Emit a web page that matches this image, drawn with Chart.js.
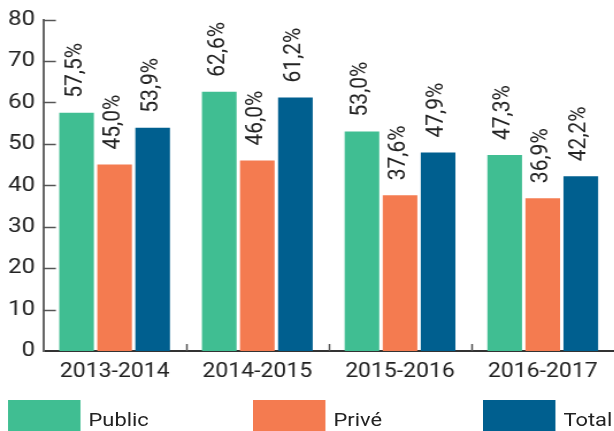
<!DOCTYPE html>
<html lang="fr">
<head>
  <meta charset="UTF-8" />
  <title>Public / Privé / Total</title>
  <script src="https://cdn.jsdelivr.net/npm/chart.js"></script>
  <style>
    html, body { margin: 0; padding: 0; background: #fff; overflow: hidden; }
    /* the source picture is stretched sideways, so we draw narrow and scale */
    #wrap { position: relative; width: 534px; height: 431px; transform: scaleX(1.15); transform-origin: 0 0; }
    #legend { position: absolute; left: 0; top: 400px; width: 534px; height: 40px; font-family: Roboto, sans-serif; font-size: 19px; color: #222; }
    .item { position: absolute; top: 0; height: 40px; }
    .box { position: absolute; left: 0; top: 0; width: 63px; height: 40px; }
    .txt { position: absolute; left: 70px; top: 8px; white-space: nowrap; }
  </style>
</head>
<body>
  <div id="wrap">
    <canvas id="chart" width="534" height="431"></canvas>
    <div id="legend"></div>
  </div>

  <script>
    const years = ['2013-2014', '2014-2015', '2015-2016', '2016-2017'];
    const seriesNames = ['Public', 'Privé', 'Total'];
    const publicVals = [57.5, 62.6, 53.0, 47.3];
    const priveVals = [45.0, 46.0, 37.6, 36.9];
    const totalVals = [53.9, 61.2, 47.9, 42.2];
    const colors = ['#40be92', '#f47b50', '#005f8f'];
    const legendLeft = [7, 220, 420];

    const textColor = '#222';

    // rotated value labels above each bar
    const valueLabels = {
      id: 'valueLabels',
      afterDatasetsDraw(chart) {
        const ctx = chart.ctx;
        ctx.save();
        ctx.font = '21px Roboto';
        ctx.fillStyle = textColor;
        ctx.textAlign = 'left';
        ctx.textBaseline = 'middle';
        chart.data.datasets.forEach((ds, i) => {
          chart.getDatasetMeta(i).data.forEach((bar, j) => {
            ctx.save();
            ctx.translate(bar.x - 1, bar.y - 15);
            ctx.rotate(-Math.PI / 2);
            ctx.fillText(ds.data[j].toFixed(1).replace('.', ',') + '%', 0, 0);
            ctx.restore();
          });
        });
        ctx.restore();
      }
    };

    // tick marks pointing into the plot, like the original
    const innerTicks = {
      id: 'innerTicks',
      afterDraw(chart) {
        const ctx = chart.ctx;
        const area = chart.chartArea;
        const y = chart.scales.y;
        const x = chart.scales.x;
        ctx.save();
        ctx.lineWidth = 1.5;
        ctx.strokeStyle = '#555';
        y.ticks.forEach(t => {
          const py = Math.round(y.getPixelForValue(t.value)) + 0.5;
          if (t.value === 0) return;
          ctx.beginPath();
          ctx.moveTo(area.left, py);
          ctx.lineTo(area.left + 11, py);
          ctx.stroke();
        });
        const step = x.getPixelForValue(1) - x.getPixelForValue(0);
        for (let i = 0; i < years.length - 1; i++) {
          const px = Math.round(x.getPixelForValue(i) + step / 2) + 0.5;
          ctx.beginPath();
          ctx.moveTo(px, area.bottom);
          ctx.lineTo(px, area.bottom - 7);
          ctx.stroke();
        }
        ctx.restore();
      }
    };

    new Chart(document.getElementById('chart'), {
      type: 'bar',
      data: {
        labels: years,
        datasets: [
          { label: seriesNames[0], data: publicVals, backgroundColor: colors[0] },
          { label: seriesNames[1], data: priveVals, backgroundColor: colors[1] },
          { label: seriesNames[2], data: totalVals, backgroundColor: colors[2] }
        ]
      },
      options: {
        responsive: false,
        animation: false,
        events: [],
        layout: { padding: { top: 2, right: 0, bottom: 38, left: 0 } },
        datasets: { bar: { categoryPercentage: 0.8, barPercentage: 0.91 } },
        plugins: { legend: { display: false }, tooltip: { enabled: false } },
        scales: {
          x: {
            grid: { display: false, drawTicks: false },
            border: { display: true, color: '#333', width: 2 },
            ticks: { color: textColor, font: { family: 'Roboto', size: 20 }, padding: 9 }
          },
          y: {
            min: 0, max: 80,
            grid: { display: false, drawTicks: false },
            border: { display: true, color: '#666', width: 2 },
            ticks: { stepSize: 10, color: textColor, font: { family: 'Roboto', size: 21 }, padding: 7 }
          }
        }
      },
      plugins: [valueLabels, innerTicks]
    });

    // legend as plain html under the chart
    const legend = document.getElementById('legend');
    seriesNames.forEach((name, i) => {
      const item = document.createElement('div');
      item.className = 'item';
      item.style.left = legendLeft[i] + 'px';
      item.innerHTML = '<div class="box" style="background:' + colors[i] + '"></div><div class="txt">' + name + '</div>';
      legend.appendChild(item);
    });
  </script>
</body>
</html>
